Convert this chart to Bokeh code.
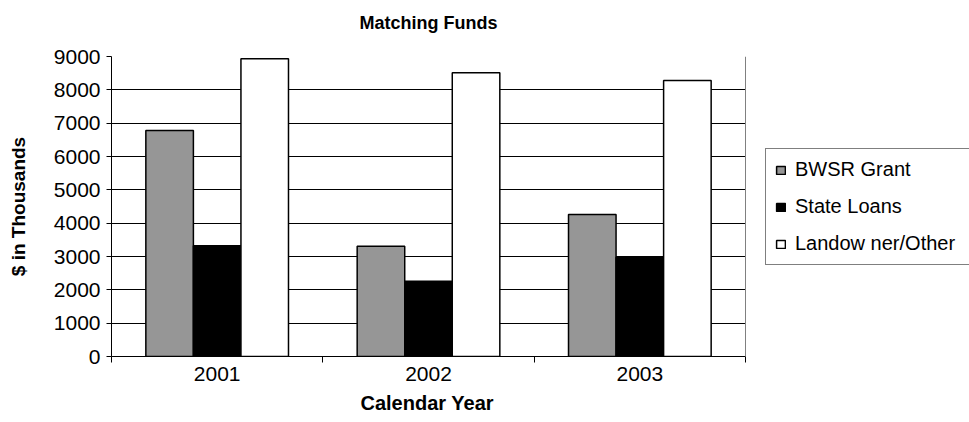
from bokeh.plotting import figure
from bokeh.models import (ColumnDataSource, Range1d, FixedTicker, Legend, LegendItem, Span, Title)
from bokeh.transform import dodge
from bokeh.embed import file_html
from bokeh.resources import INLINE

# Matching funds by calendar year, $ in thousands
years = ["2001", "2002", "2003"]
bwsr_grant = [6780, 3310, 4260]
state_loans = [3320, 2260, 2980]
landowner_other = [8930, 8510, 8280]

series_names = ["BWSR Grant", "State Loans", "Landow ner/Other"]
series_colors = ["#969696", "#000000", "#ffffff"]

FONT = "Liberation Sans"

W, H = 969, 422
LEFT, TOP, BOTTOM = 111, 56, 66
AREA_W = 634  # width of the bar area in pixels; the rest of the frame holds the legend

n = len(years)
centers = [i + 0.5 for i in range(n)]
src = ColumnDataSource(dict(x=centers, bwsr=bwsr_grant, loans=state_loans, land=landowner_other))

x_end = n * (W - LEFT) / AREA_W
p = figure(width=W, height=H, output_backend="svg", toolbar_location=None,
           x_range=Range1d(0, x_end), y_range=Range1d(0, 9000),
           min_border_left=LEFT, min_border_right=0, min_border_top=TOP, min_border_bottom=BOTTOM)

bar_w = 0.225
offsets = [-bar_w, 0.0, bar_w]
renderers = []
for col, off, color in zip(["bwsr", "loans", "land"], offsets, series_colors):
    r = p.vbar(x=dodge("x", off), top=col, width=bar_w, bottom=0, source=src,
               fill_color=color, line_color="black", line_width=1.5)
    renderers.append(r)

# title, centred over the bar area; the empty second line lifts it away from the frame
p.title = Title(text="Matching Funds\n", align="left", offset=AREA_W / 2 - 69, standoff=8,
                text_font=FONT, text_font_size="18px", text_font_style="bold", text_color="black")

# plot area
p.background_fill_color = "white"
p.border_fill_color = "white"
p.outline_line_color = None

p.xgrid.visible = False
p.ygrid.grid_line_color = "black"
p.ygrid.grid_line_width = 1
p.ygrid.cross_bounds = (0, n)

# right edge of the bar area
p.add_layout(Span(location=n, dimension="height", line_color="#808080", line_width=1))

# y axis
p.yaxis.ticker = FixedTicker(ticks=list(range(0, 9001, 1000)))
p.yaxis.axis_label = "$ in Thousands"
p.yaxis.axis_label_text_font = FONT
p.yaxis.axis_label_text_font_size = "19px"
p.yaxis.axis_label_text_font_style = "bold"
p.yaxis.axis_label_text_color = "black"
p.yaxis.axis_label_standoff = 22
p.yaxis.major_label_text_font = FONT
p.yaxis.major_label_text_font_size = "21px"
p.yaxis.major_label_text_color = "black"
p.yaxis.major_label_standoff = 6
p.yaxis.major_tick_out = 5
p.yaxis.major_tick_in = 0
p.yaxis.minor_tick_out = 0
p.yaxis.minor_tick_in = 0
p.yaxis.axis_line_color = "black"
p.yaxis.major_tick_line_color = "black"

# x axis: labels at group centres, tick marks at group boundaries
p.xaxis.bounds = (0, n)
p.xaxis.ticker = FixedTicker(ticks=centers, minor_ticks=list(range(n + 1)))
p.xaxis.major_label_overrides = {c: y for c, y in zip(centers, years)}
p.xaxis.major_label_text_font = FONT
p.xaxis.major_label_text_font_size = "21px"
p.xaxis.major_label_text_color = "black"
p.xaxis.major_label_standoff = 4
p.xaxis.major_tick_out = 0
p.xaxis.major_tick_in = 0
p.xaxis.minor_tick_out = 6
p.xaxis.minor_tick_in = 0
p.xaxis.minor_tick_line_color = "black"
p.xaxis.axis_line_color = "black"

# x axis title, centred under the bar area
x_title = Title(text="Calendar Year", align="left", offset=AREA_W / 2 - 68, standoff=12,
                vertical_align="bottom",
                text_font=FONT, text_font_size="20px", text_font_style="bold", text_color="black")
p.add_layout(x_title, "below")

legend = Legend(items=[LegendItem(label=s, renderers=[r]) for s, r in zip(series_names, renderers)],
                location=(AREA_W + 20, 91), orientation="vertical")
legend.label_text_font = FONT
legend.label_text_font_size = "20px"
legend.label_text_color = "black"
legend.glyph_width = 11
legend.glyph_height = 10
legend.label_standoff = 9
legend.label_width = 180
legend.label_height = 20
legend.spacing = 14
legend.padding = 9
legend.margin = 0
legend.border_line_color = "black"
legend.border_line_width = 1
legend.background_fill_color = "white"
legend.background_fill_alpha = 1
p.add_layout(legend, "center")

open("out.html", "w").write(file_html(p, INLINE))
